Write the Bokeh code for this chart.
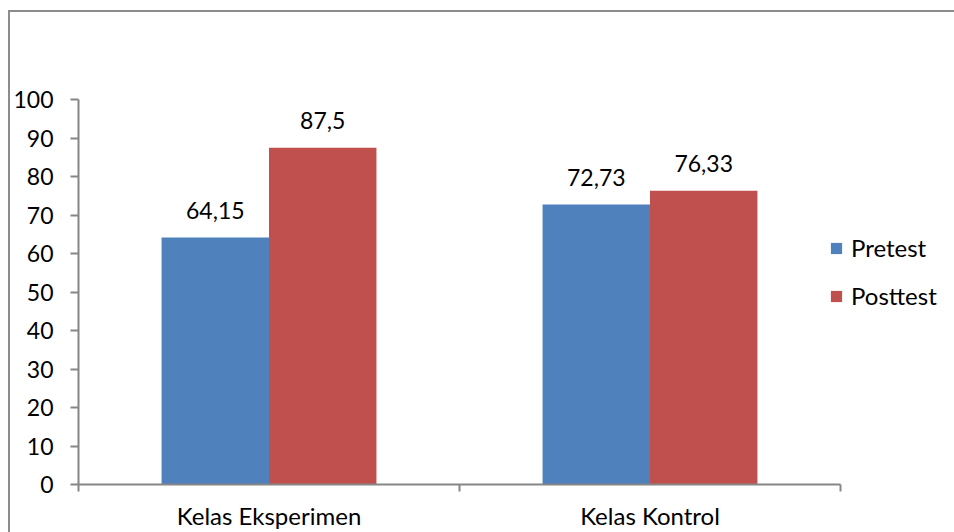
from bokeh.plotting import figure
from bokeh.models import Range1d, FixedTicker, ColumnDataSource, Legend, LegendItem, InlineStyleSheet
from bokeh.core.properties import value
from bokeh.embed import file_html
from bokeh.resources import INLINE

categories = ["Kelas Eksperimen", "Kelas Kontrol"]
series = ["Pretest", "Posttest"]
pretest = [64.15, 72.73]
posttest = [87.5, 76.33]
colors = ["#4F81BD", "#C0504D"]
y_ticks = [0, 10, 20, 30, 40, 50, 60, 70, 80, 90, 100]

FONT = "Lato"
FS = "23px"
FS_BIG = "24px"
GRAY = "#868686"

# frame spans x 78..950; category axis (0..2) occupies 78..840
frame_left, frame_right, axis_right = 78, 950, 840
x_end = 2 * (frame_right - frame_left) / (axis_right - frame_left)

p = figure(width=954, height=532, output_backend="svg", toolbar_location=None,
           x_range=Range1d(0, x_end), y_range=Range1d(0, 100),
           min_border_left=frame_left, min_border_right=954 - frame_right,
           min_border_top=99, min_border_bottom=47)
p.stylesheets = [InlineStyleSheet(css=(
    ":host::after { content: ''; position: absolute; left: 8px; top: 10px; "
    "width: 946px; height: 522px; border-left: 2px solid #8c8c8c; "
    "border-top: 2px solid #8c8c8c; pointer-events: none; box-sizing: border-box; }"))]
p.outline_line_color = None
p.grid.visible = False

bar_w = 0.282
centers = [i + 0.5 for i in range(len(categories))]
renderers = []
for k, (name, vals) in enumerate(zip(series, [pretest, posttest])):
    xs = [c + (k - 0.5) * bar_w for c in centers]
    src = ColumnDataSource(dict(x=xs, top=vals,
                                lab=[("%g" % v).replace(".", ",") for v in vals]))
    r = p.vbar(x="x", top="top", width=bar_w, source=src, fill_color=colors[k], line_color=None)
    renderers.append(r)
    p.text(x="x", y="top", text="lab", source=src, text_align="center",
           text_baseline="alphabetic", y_offset=-27, text_font=value(FONT),
           text_font_size=FS, text_color="black")

# axes
xa = p.xaxis[0]
xa.bounds = (0, len(categories))
xa.ticker = FixedTicker(ticks=centers, minor_ticks=list(range(len(categories) + 1)))
xa.major_label_overrides = {c: cat for c, cat in zip(centers, categories)}
xa.major_tick_line_color = None
xa.major_tick_in = 0
xa.major_tick_out = 7
xa.minor_tick_in = 0
xa.minor_tick_out = 7
xa.minor_tick_line_color = GRAY
xa.minor_tick_line_width = 2
xa.axis_line_color = GRAY
xa.axis_line_width = 2
xa.major_label_standoff = 9
xa.major_label_text_font = FONT
xa.major_label_text_font_size = FS_BIG
xa.major_label_text_color = "black"

ya = p.yaxis[0]
ya.ticker = FixedTicker(ticks=y_ticks)
ya.minor_tick_line_color = None
ya.major_tick_in = 0
ya.major_tick_out = 8
ya.major_tick_line_color = GRAY
ya.major_tick_line_width = 2
ya.axis_line_color = GRAY
ya.axis_line_width = 2
ya.major_label_standoff = 17
ya.major_label_text_font = FONT
ya.major_label_text_font_size = FS
ya.major_label_text_color = "black"

legend = Legend(items=[LegendItem(label=s, renderers=[r]) for s, r in zip(series, renderers)],
                location=(751, 174), padding=0, margin=0, border_line_color=None,
                background_fill_alpha=0, glyph_width=14, glyph_height=14,
                label_standoff=8, label_height=28, spacing=19,
                label_text_font=FONT, label_text_font_size=FS_BIG, label_text_color="black")
p.add_layout(legend, "center")

open("out.html", "w").write(file_html(p, INLINE))
